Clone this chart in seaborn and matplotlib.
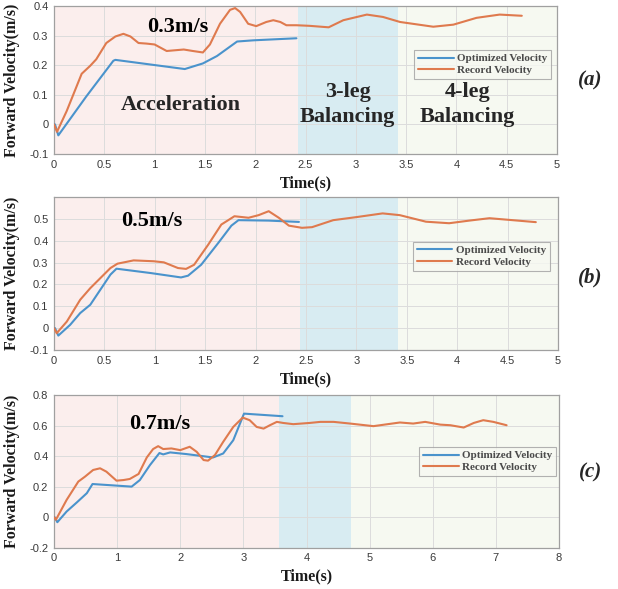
import numpy as np
import pandas as pd
import matplotlib
matplotlib.use("Agg")
import matplotlib.pyplot as plt
import seaborn as sns

sns.set_theme(style="white")
plt.rcParams['font.family'] = ['Liberation Sans', 'DejaVu Sans']

# ---------------- data ----------------
# Panel (a)
a_opt_t = [0.0, 0.01, 0.043, 0.32, 0.59, 0.61, 1.30, 1.48, 1.62, 1.82, 1.98, 2.41]
a_opt_v = [0.0, 0.0, -0.037, 0.094, 0.215, 0.218, 0.187, 0.206, 0.231, 0.28, 0.284, 0.291]
a_rec_t = [0.0, 0.03, 0.126, 0.275, 0.36, 0.42, 0.52, 0.61, 0.69, 0.76, 0.84, 0.92, 1.0, 1.12,
           1.29, 1.38, 1.48, 1.55, 1.65, 1.75, 1.80, 1.85, 1.93, 2.01, 2.11, 2.18, 2.25, 2.31,
           2.41, 2.54, 2.73, 2.876, 3.11, 3.27, 3.44, 3.77, 3.97, 4.2, 4.43, 4.65]
a_rec_v = [0.0, -0.025, 0.045, 0.171, 0.198, 0.22, 0.275, 0.297, 0.306, 0.297, 0.275, 0.273,
           0.27, 0.248, 0.253, 0.248, 0.243, 0.27, 0.34, 0.387, 0.393, 0.38, 0.34, 0.332,
           0.346, 0.352, 0.346, 0.335, 0.335, 0.333, 0.328, 0.352, 0.371, 0.363, 0.346, 0.33,
           0.337, 0.36, 0.371, 0.367]

# Panel (b)
b_opt_t = [0.0, 0.01, 0.043, 0.16, 0.26, 0.36, 0.46, 0.56, 0.62, 0.96, 1.26, 1.33, 1.46, 1.63,
           1.76, 1.83, 2.13, 2.43]
b_opt_v = [0.0, 0.0, -0.034, 0.015, 0.069, 0.107, 0.176, 0.245, 0.272, 0.252, 0.232, 0.24,
           0.29, 0.39, 0.469, 0.494, 0.492, 0.486]
b_rec_t = [0.0, 0.027, 0.127, 0.26, 0.36, 0.46, 0.56, 0.63, 0.79, 0.99, 1.09, 1.23, 1.31, 1.39,
           1.53, 1.66, 1.79, 1.93, 2.03, 2.13, 2.23, 2.33, 2.46, 2.56, 2.77, 3.0, 3.26, 3.43,
           3.69, 3.92, 4.12, 4.32, 4.55, 4.78]
b_rec_v = [0.0, -0.023, 0.03, 0.13, 0.183, 0.229, 0.275, 0.295, 0.31, 0.306, 0.301, 0.275,
           0.271, 0.29, 0.382, 0.474, 0.512, 0.505, 0.517, 0.535, 0.505, 0.469, 0.459, 0.462,
           0.494, 0.508, 0.525, 0.517, 0.487, 0.48, 0.492, 0.503, 0.494, 0.485]

# Panel (c)
c_opt_t = [0.0, 0.01, 0.053, 0.2, 0.36, 0.52, 0.61, 1.23, 1.36, 1.52, 1.67, 1.73, 1.84, 2.1,
           2.52, 2.68, 2.84, 3.01, 3.62]
c_opt_v = [0.0, 0.0, -0.033, 0.037, 0.096, 0.157, 0.217, 0.2, 0.243, 0.341, 0.42, 0.411, 0.424,
           0.413, 0.391, 0.417, 0.504, 0.678, 0.661]
c_rec_t = [0.0, 0.03, 0.2, 0.385, 0.49, 0.62, 0.73, 0.83, 0.99, 1.1, 1.2, 1.34, 1.47, 1.57, 1.65,
           1.73, 1.86, 2.0, 2.15, 2.26, 2.37, 2.44, 2.55, 2.68, 2.84, 2.99, 3.1, 3.21, 3.32,
           3.42, 3.53, 3.63, 3.79, 4.05, 4.22, 4.43, 4.69, 5.06, 5.48, 5.69, 5.88, 6.12, 6.28,
           6.49, 6.65, 6.80, 6.96, 7.17]
c_rec_v = [0.0, -0.017, 0.113, 0.233, 0.265, 0.309, 0.32, 0.298, 0.239, 0.243, 0.25, 0.283,
           0.391, 0.446, 0.465, 0.446, 0.45, 0.439, 0.461, 0.428, 0.374, 0.37, 0.407, 0.493,
           0.591, 0.652, 0.635, 0.591, 0.58, 0.602, 0.624, 0.617, 0.609, 0.617, 0.624, 0.624,
           0.613, 0.596, 0.62, 0.613, 0.624, 0.606, 0.602, 0.587, 0.617, 0.635, 0.624, 0.602]

# Phase boundaries (s)
a_phases = [2.43, 3.42]
b_phases = [2.44, 3.41]
c_phases = [3.57, 4.70]

series_names = ["Optimized Velocity", "Record Velocity"]
speed_labels = ["0.3m/s", "0.5m/s", "0.7m/s"]
panel_labels = ["(a)", "(b)", "(c)"]

# ---------------- styling ----------------
BLUE = "#4a93cc"
ORANGE = "#df7a4e"
PINK = "#fbeeed"
CYAN = "#d8ecf2"
GREEN = "#f6f9f1"
SERIF = ["Liberation Serif", "DejaVu Serif"]

fig = plt.figure(figsize=(6.18, 5.89), dpi=100)

panels = [
    dict(pos=[54/618, 1-154/589, 503/618, 148/589], xlim=(0, 5), ylim=(-0.1, 0.4),
         xticks=np.arange(0, 5.01, 0.5), yticks=np.round(np.arange(-0.1, 0.41, 0.1), 2),
         opt=(a_opt_t, a_opt_v), rec=(a_rec_t, a_rec_v), ph=a_phases,
         speed_xy=(1.23, 0.33), leg=(0.716, 0.704), lab_y=1-80/589),
    dict(pos=[54/618, 1-350/589, 504/618, 153/589], xlim=(0, 5), ylim=(-0.1, 0.6),
         xticks=np.arange(0, 5.01, 0.5), yticks=np.round(np.arange(-0.1, 0.51, 0.1), 2),
         opt=(b_opt_t, b_opt_v), rec=(b_rec_t, b_rec_v), ph=b_phases,
         speed_xy=(0.97, 0.489), leg=(0.712, 0.708), lab_y=1-277/589),
    dict(pos=[54/618, 1-547.7/589, 505/618, 152.7/589], xlim=(0, 8), ylim=(-0.2, 0.8),
         xticks=np.arange(0, 8.01, 1), yticks=np.round(np.arange(-0.2, 0.81, 0.2), 2),
         opt=(c_opt_t, c_opt_v), rec=(c_rec_t, c_rec_v), ph=c_phases,
         speed_xy=(1.68, 0.613), leg=(0.723, 0.661), lab_y=1-472/589),
]

def fmt(v):
    return f"{v:g}"

BIG = 16

for i, p in enumerate(panels):
    ax = fig.add_axes(p["pos"])
    x0, x1 = p["xlim"]
    ax.axvspan(x0, p["ph"][0], color=PINK, lw=0, zorder=0)
    ax.axvspan(p["ph"][0], p["ph"][1], color=CYAN, lw=0, zorder=0)
    ax.axvspan(p["ph"][1], x1, color=GREEN, lw=0, zorder=0)

    df_opt = pd.DataFrame({"t": p["opt"][0], "v": p["opt"][1]})
    df_rec = pd.DataFrame({"t": p["rec"][0], "v": p["rec"][1]})
    sns.lineplot(data=df_opt, x="t", y="v", ax=ax, color=BLUE, lw=1.5,
                 label=series_names[0], zorder=3, sort=False)
    sns.lineplot(data=df_rec, x="t", y="v", ax=ax, color=ORANGE, lw=1.5,
                 label=series_names[1], zorder=3, sort=False)

    ax.set_xlim(*p["xlim"])
    ax.set_ylim(*p["ylim"])
    ax.set_xticks(p["xticks"])
    ax.set_xticklabels([fmt(v) for v in p["xticks"]])
    ax.set_yticks(p["yticks"])
    ax.set_yticklabels([fmt(v) for v in p["yticks"]])
    ax.grid(True, color="#dcdcdc", lw=0.7, zorder=1)
    for line in ax.get_xgridlines() + ax.get_ygridlines():
        line.set_zorder(1)
    ax.tick_params(direction="in", length=3, width=0.7, colors="#a0a0a0",
                   labelcolor="#3a3a3a", labelsize=8, pad=4,
                   top=False, right=False)
    for s in ax.spines.values():
        s.set_color("#a0a0a0")
        s.set_linewidth(0.9)

    ax.set_xlabel("Time(s)", fontfamily=SERIF, fontweight="bold", fontsize=11.5,
                  color="#1a1a1a", labelpad=4)
    ax.set_ylabel("Forward Velocity(m/s)", fontfamily=SERIF, fontweight="bold",
                  fontsize=11.5, color="#1a1a1a", labelpad=6)
    ax.yaxis.set_label_coords(-0.068, 0.5)

    ax.text(p["speed_xy"][0], p["speed_xy"][1], speed_labels[i], ha="center", va="center",
            fontfamily=SERIF, fontweight="bold", fontsize=BIG, color="black", zorder=4)

    leg = ax.legend(loc="upper left", bbox_to_anchor=p["leg"], frameon=True,
                    prop={"family": SERIF, "weight": "bold", "size": 8},
                    handlelength=3.2, handletextpad=0.3, borderpad=0.35,
                    labelspacing=0.15, fancybox=False, borderaxespad=0)
    leg.get_frame().set_edgecolor("#a0a0a0")
    leg.get_frame().set_facecolor("#f6f8f2")
    leg.get_frame().set_linewidth(0.8)
    for t in leg.get_texts():
        t.set_color("#4a4a4a")

    fig.text(0.955, p["lab_y"], panel_labels[i], ha="center", va="center",
             fontfamily=SERIF, fontweight="bold", fontstyle="italic", fontsize=15)

    if i == 0:
        ax.text(1.26, 0.064, "Acceleration", ha="center", va="center",
                fontfamily=SERIF, fontweight="bold", fontsize=BIG, zorder=4)
        ax.text(2.92, 0.068, "3-leg\nBalancing", ha="center", va="center",
                fontfamily=SERIF, fontweight="bold", fontsize=BIG, linespacing=1.35, zorder=4)
        ax.text(4.11, 0.068, "4-leg\nBalancing", ha="center", va="center",
                fontfamily=SERIF, fontweight="bold", fontsize=BIG, linespacing=1.35, zorder=4)

fig.savefig("out.png", dpi=100)
